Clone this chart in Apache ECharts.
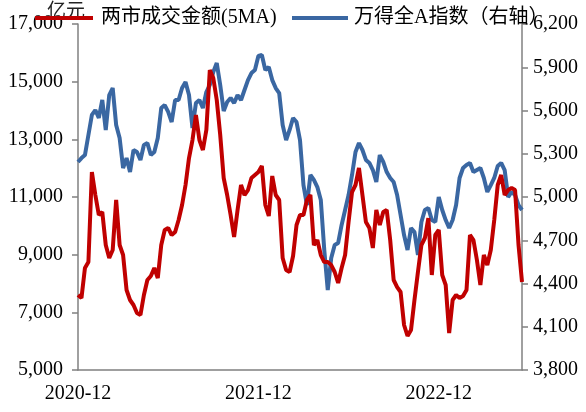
<!DOCTYPE html>
<html><head><meta charset="utf-8">
<script src="https://cdn.jsdelivr.net/npm/echarts@6/dist/echarts.min.js"></script>
<style>html,body{margin:0;padding:0;background:#fff}#c{width:586px;height:412px}</style>
</head><body><div id="c"></div>
<script>
// weekly sample dates, first week 2020-12-04
const startDate = '2020-12-04';
const seriesNames = ['两市成交金额(5MA)', '万得全A指数（右轴）'];
const leftUnit = '亿元';
// 两市成交金额(5MA), 亿元
const turnover = [
7601,7497,8537,8745,11867,11069,10375,10479,9335,8884,
9162,10896,9335,8988,7774,7428,7254,6977,6907,7601,
8121,8260,8537,8191,9335,9855,9925,9682,9786,10202,
10722,11416,12352,12976,13843,12976,12630,13323,15404,15127,
14364,13150,11659,11069,10375,9612,10549,11416,11069,11242,
11659,11763,11867,12075,10722,10341,11728,11069,10896,8884,
8468,8399,8954,10029,10375,10375,10896,11069,9335,9508,
8988,8745,8745,8641,8399,8017,8537,8988,10133,11173,
11416,12005,11069,10133,9925,9231,10549,10029,10479,10549,
9508,8121,7878,7705,6561,6179,6387,7428,8399,9335,
9578,10271,8295,9682,9855,8295,7948,6283,7428,7601,
7497,7566,7774,9682,9508,8815,7948,8988,8641,9162,
10202,11416,11763,11069,11242,11312,11242,9335,8052
];
// 万得全A指数 (右轴)
const windA = [
5243,5270,5291,5430,5569,5603,5548,5673,5465,5707,
5756,5499,5409,5201,5270,5173,5326,5312,5257,5361,
5374,5291,5312,5409,5617,5638,5590,5520,5673,5673,
5756,5798,5707,5479,5652,5673,5617,5728,5777,5867,
5929,5777,5596,5659,5687,5652,5707,5673,5742,5811,
5860,5881,5978,5985,5881,5902,5811,5756,5721,5499,
5395,5465,5548,5520,5395,5083,4944,5153,5118,5069,
4979,4632,4355,4577,4667,4681,4806,4910,5014,5153,
5312,5374,5326,5257,5236,5187,5104,5291,5243,5173,
5132,5104,5014,4875,4736,4632,4785,4757,4598,4827,
4910,4924,4840,4827,5000,4910,4840,4785,4840,4944,
5132,5201,5222,5236,5173,5187,5201,5132,5035,5083,
5132,5215,5236,5187,5000,5035,5014,4944,4910
];
const leftAxisRange = [5000, 17000, 2000];
const rightAxisRange = [3800, 6200, 300];

const categories = [];
{
  const d0 = new Date(startDate + 'T00:00:00Z');
  for (let i = 0; i < turnover.length; i++) {
    const d = new Date(d0.getTime() + i * 7 * 86400000);
    categories.push(d.toISOString().slice(0, 10));
  }
}
const serif = '"Liberation Serif", "Times New Roman", "Noto Sans CJK SC", serif';
const axisColor = '#808080';
const fmt = v => Number(v).toLocaleString('en-US');

const chart = echarts.init(document.getElementById('c'), null, {renderer: 'canvas'});
chart.setOption({
  animation: false,
  backgroundColor: '#fff',
  graphic: [
    {
      type: 'text', left: 47, top: 3, z: 0,
      style: {text: leftUnit, fontFamily: serif, fontSize: 19, fill: '#222'}
    }
  ],
  legend: [
    {
      data: [seriesNames[0]], left: 30, top: 3, icon: 'rect', itemWidth: 58, itemHeight: 4, z: 10,
      textStyle: {fontFamily: serif, fontSize: 20, color: '#000', padding: [0, 0, 0, 3]}
    },
    {
      data: [seriesNames[1]], left: 287, top: 3, icon: 'rect', itemWidth: 56, itemHeight: 4, z: 10,
      textStyle: {fontFamily: serif, fontSize: 20, color: '#000', padding: [0, 0, 0, 1]}
    }
  ],
  grid: {left: 78, right: 64, top: 24, bottom: 42, containLabel: false},
  xAxis: {
    type: 'category', data: categories, boundaryGap: false,
    axisLine: {lineStyle: {color: axisColor, width: 1.5}},
    axisTick: {show: false},
    axisLabel: {
      fontFamily: serif, fontSize: 20, color: '#000', margin: 14,
      interval: (idx, val) => val.slice(5, 7) === '12' && Number(val.slice(8, 10)) <= 7,
      formatter: v => v.slice(0, 7)
    },
    splitLine: {show: false}
  },
  yAxis: [
    {
      type: 'value', min: leftAxisRange[0], max: leftAxisRange[1], interval: leftAxisRange[2],
      axisLine: {show: true, lineStyle: {color: axisColor, width: 1.5}},
      axisTick: {show: true, length: 6, lineStyle: {color: axisColor, width: 1.5}},
      axisLabel: {fontFamily: serif, fontSize: 20, color: '#000', margin: 15, formatter: fmt},
      splitLine: {show: false}
    },
    {
      type: 'value', position: 'right', min: rightAxisRange[0], max: rightAxisRange[1], interval: rightAxisRange[2],
      axisLine: {show: true, lineStyle: {color: axisColor, width: 1.5}},
      axisTick: {show: true, length: 6, lineStyle: {color: axisColor, width: 1.5}},
      axisLabel: {fontFamily: serif, fontSize: 20, color: '#000', margin: 11, formatter: fmt},
      splitLine: {show: false}
    }
  ],
  series: [
    {
      name: seriesNames[1], type: 'line', yAxisIndex: 1, data: windA, symbol: 'none',
      z: 2, itemStyle: {color: '#3A67A2'}, lineStyle: {color: '#3A67A2', width: 4}
    },
    {
      name: seriesNames[0], type: 'line', yAxisIndex: 0, data: turnover, symbol: 'none',
      z: 3, itemStyle: {color: '#C00000'}, lineStyle: {color: '#C00000', width: 4}
    }
  ]
});
</script></body></html>
